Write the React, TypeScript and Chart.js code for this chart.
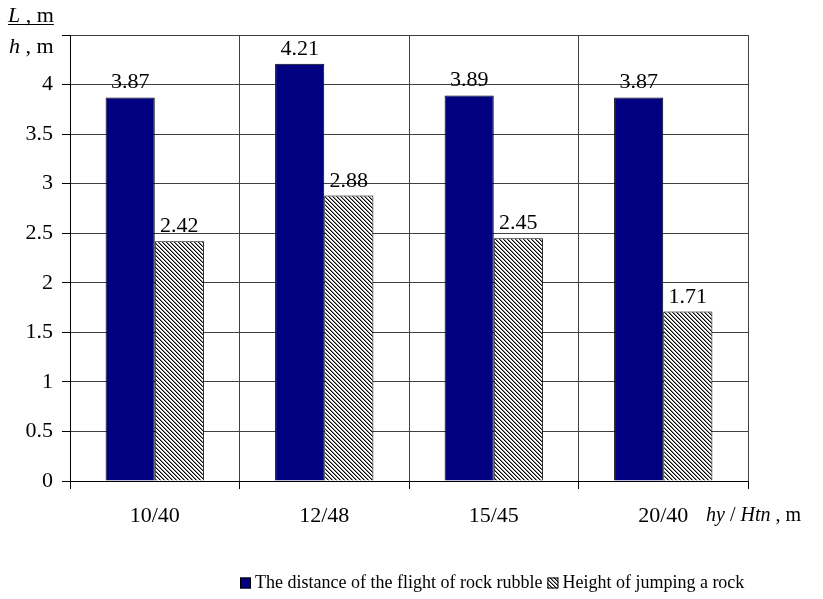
import React, { useEffect, useRef } from "react";
import { Chart, registerables } from "chart.js";

Chart.register(...registerables);

const categories = ["10/40", "12/48", "15/45", "20/40"];
const flightDistance = [3.87, 4.21, 3.89, 3.87];
const jumpHeight = [2.42, 2.88, 2.45, 1.71];
const seriesNames = ["The distance of the flight of rock rubble", "Height of jumping a rock"];
const yTicksMax = 4.5;
const yStep = 0.5;

const FONT = "'Liberation Serif', 'Times New Roman', serif";

function makeHatch(): CanvasPattern | string {
  const c = document.createElement("canvas");
  c.width = 4;
  c.height = 4;
  const g = c.getContext("2d");
  if (!g) return "#888";
  g.fillStyle = "#fff";
  g.fillRect(0, 0, 4, 4);
  for (let i = 0; i < 4; i++) {
    g.fillStyle = "#000";
    g.fillRect(i, i, 1, 1);
    g.fillStyle = "#8a8a8a";
    g.fillRect((i + 1) % 4, i, 1, 1);
  }
  const p = g.createPattern(c, "repeat");
  return p || "#888";
}

export default function App() {
  const ref = useRef<HTMLCanvasElement | null>(null);

  useEffect(() => {
    if (!ref.current) return;
    const hatch = makeHatch();

    const labelsPlugin = {
      id: "valueLabels",
      afterDatasetsDraw(chart: any) {
        const ctx = chart.ctx;
        ctx.save();
        ctx.font = `22px ${FONT}`;
        ctx.fillStyle = "#000";
        ctx.textAlign = "center";
        ctx.textBaseline = "alphabetic";
        chart.data.datasets.forEach((ds: any, di: number) => {
          const meta = chart.getDatasetMeta(di);
          meta.data.forEach((el: any, i: number) => {
            ctx.fillText(Number(ds.data[i]).toFixed(2), el.x, el.y - 9);
          });
        });
        ctx.restore();
      },
    };

    const textPlugin = {
      id: "axisTexts",
      afterDraw(chart: any) {
        const ctx = chart.ctx;
        const area = chart.chartArea;
        ctx.save();
        ctx.fillStyle = "#000";
        ctx.strokeStyle = "#000";
        ctx.textBaseline = "alphabetic";
        ctx.textAlign = "left";

        const drawParts = (parts: [string, boolean][], x: number, y: number, underline: boolean, size: number) => {
          let cx = x;
          parts.forEach(([t, it]) => {
            ctx.font = `${it ? "italic " : ""}${size}px ${FONT}`;
            const w = ctx.measureText(t).width;
            ctx.fillText(t, cx, y);
            cx += w;
          });
          if (underline) {
            ctx.lineWidth = 1;
            ctx.beginPath();
            ctx.moveTo(x, y + 2.5);
            ctx.lineTo(cx, y + 2.5);
            ctx.stroke();
          }
          return cx;
        };
        // Y axis title
        drawParts([["L", true], [" , m", false]], 8, 22, true, 22);
        drawParts([["h", true], [" , m", false]], 9, 53, false, 22);

        // X axis title
        const xs = chart.scales.x;
        const yMid = xs.top + 8 + 14 + 13;
        ctx.textBaseline = "middle";
        drawParts(
          [["hy", true], [" / ", false], ["Htn", true], [" , m", false]],
          area.right - 42,
          yMid,
          false,
          20
        );

        // Legend
        ctx.textBaseline = "middle";
        const ly = 583;
        let lx = 240;
        const box = 11;
        const fills = [chart.data.datasets[0].backgroundColor, chart.data.datasets[1].backgroundColor];
        seriesNames.forEach((name, i) => {
          ctx.fillStyle = fills[i];
          ctx.fillRect(lx, ly - box / 2, box, box);
          ctx.lineWidth = 1;
          ctx.strokeStyle = "#000";
          ctx.strokeRect(lx + 0.5, ly - box / 2 + 0.5, box - 1, box - 1);
          lx += box + 4;
          ctx.fillStyle = "#000";
          ctx.font = `18px ${FONT}`;
          ctx.fillText(name, lx, ly);
          lx += ctx.measureText(name).width + 5;
        });
        ctx.restore();
      },
    };

    const chart = new Chart(ref.current, {
      type: "bar",
      data: {
        labels: categories,
        datasets: [
          {
            label: seriesNames[0],
            data: flightDistance,
            backgroundColor: "#000080",
            borderColor: "#000",
            borderWidth: 1,
            categoryPercentage: 0.58,
            barPercentage: 1,
          },
          {
            label: seriesNames[1],
            data: jumpHeight,
            backgroundColor: hatch as any,
            borderColor: "#000",
            borderWidth: 1,
            categoryPercentage: 0.58,
            barPercentage: 1,
          },
        ],
      },
      options: {
        responsive: false,
        animation: false,
        devicePixelRatio: 1,
        layout: { padding: { top: 35, right: 75, left: 0, bottom: 0 } },
        plugins: { legend: { display: false }, tooltip: { enabled: false } },
        scales: {
          x: {
            grid: {
              offset: true,
              color: "#404040",
              lineWidth: 1,
              tickLength: 8,
              tickColor: "#000",
            },
            border: { color: "#000", width: 1 },
            ticks: {
              font: { family: FONT, size: 22 },
              color: "#000",
              padding: 14,
            },
            afterFit: (s: any) => {
              s.height = 599 - 481;
            },
          },
          y: {
            min: 0,
            max: yTicksMax,
            grid: {
              color: "#404040",
              lineWidth: 1,
              tickLength: 8,
              tickColor: "#000",
            },
            border: { color: "#000", width: 1 },
            ticks: {
              stepSize: yStep,
              font: { family: FONT, size: 22 },
              color: "#000",
              padding: 9,
              callback: (v: any) => (Number(v) >= yTicksMax ? "" : String(v)),
            },
            afterFit: (s: any) => {
              s.width = 70;
            },
          },
        },
      },
      plugins: [labelsPlugin, textPlugin],
    });
    return () => chart.destroy();
  }, []);

  return (
    <div style={{ position: "absolute", left: 0, top: 0, width: 823, height: 599, background: "#fff" }}>
      <canvas ref={ref} width={823} height={599} style={{ width: 823, height: 599 }} />
    </div>
  );
}
